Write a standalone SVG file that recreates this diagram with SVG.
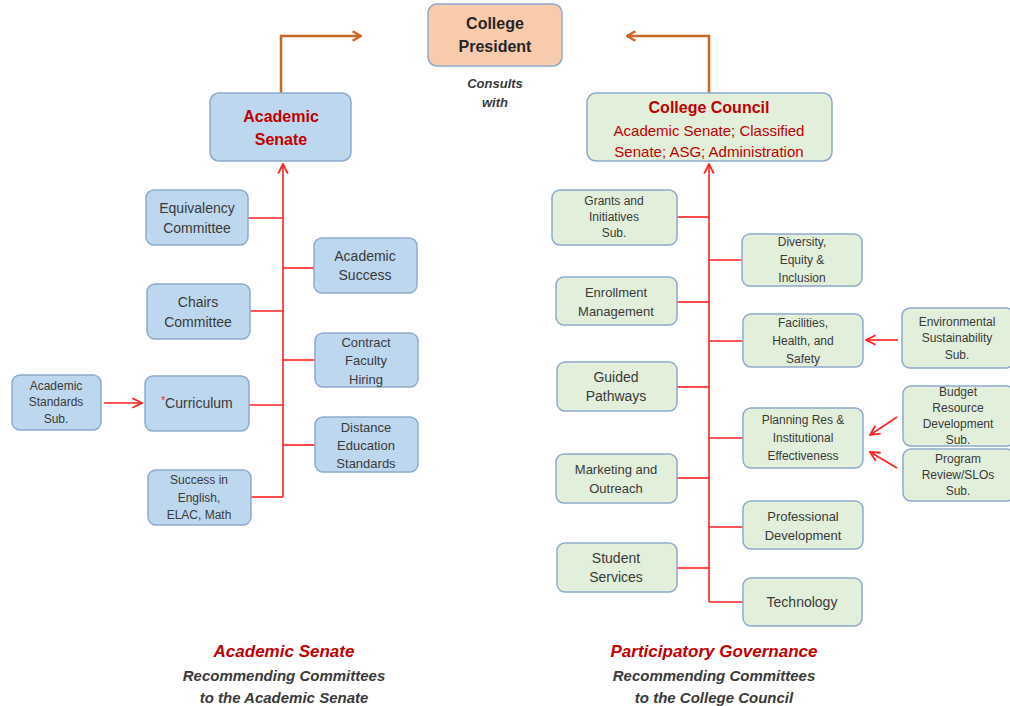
<svg xmlns="http://www.w3.org/2000/svg" width="1010" height="706" viewBox="0 0 1010 706">
<defs>
<style>
text{font-family:"Liberation Sans",Arial,sans-serif;text-anchor:middle;dominant-baseline:central;fill:#3a3a3a}
.blue rect{fill:#bdd7ee;stroke:#8eaacb;stroke-width:1.5}
.green rect{fill:#e2efda;stroke:#8eaacb;stroke-width:1.5}
.t14{font-size:14px}
.t13{font-size:13px}
.t12{font-size:12px}
.red{fill:#c00000}
.head{font-size:16px;font-weight:bold}
.conn line,.conn polyline{stroke:#ff2020;stroke-width:1.6;fill:none}
.orange{stroke:#c8692a;stroke-width:2.5;fill:none}
.cap{font-style:italic;font-weight:bold}
</style>
<marker id="ra" viewBox="0 0 10 10" refX="9" refY="5" markerWidth="7" markerHeight="7" orient="auto" markerUnits="userSpaceOnUse">
<path d="M1,1 L9,5 L1,9" fill="none" stroke="#ff2020" stroke-width="1.8"/>
</marker>
<marker id="rb" viewBox="0 0 10 10" refX="9" refY="5" markerWidth="12" markerHeight="12" orient="auto" markerUnits="userSpaceOnUse">
<path d="M1,1 L9,5 L1,9" fill="none" stroke="#ff2020" stroke-width="1.5"/>
</marker>
<marker id="oa" viewBox="0 0 10 10" refX="9" refY="5" markerWidth="12" markerHeight="12" orient="auto" markerUnits="userSpaceOnUse">
<path d="M2,1 L9,5 L2,9" fill="none" stroke="#c8692a" stroke-width="2"/>
</marker>
</defs>
<rect width="1010" height="706" fill="#ffffff"/>

<g id="connectors">
<polyline class="orange" points="281,93 281,36 361,36" marker-end="url(#oa)"/>
<polyline class="orange" points="709,93 709,36 627,36" marker-end="url(#oa)"/>
<g class="conn">
<line x1="283" y1="497" x2="283" y2="164" marker-end="url(#rb)"/>
<line x1="248" y1="218" x2="283" y2="218"/>
<line x1="283" y1="268" x2="314" y2="268"/>
<line x1="250" y1="311" x2="283" y2="311"/>
<line x1="283" y1="360" x2="315" y2="360"/>
<line x1="249" y1="405" x2="283" y2="405"/>
<line x1="283" y1="445" x2="315" y2="445"/>
<line x1="251" y1="497" x2="283" y2="497"/>
<line x1="104" y1="403" x2="142" y2="403" marker-end="url(#rb)"/>
<line x1="709" y1="602" x2="709" y2="164" marker-end="url(#rb)"/>
<line x1="677" y1="217" x2="709" y2="217"/>
<line x1="709" y1="260" x2="742" y2="260"/>
<line x1="677" y1="302" x2="709" y2="302"/>
<line x1="709" y1="341" x2="743" y2="341"/>
<line x1="677" y1="387" x2="709" y2="387"/>
<line x1="709" y1="438" x2="743" y2="438"/>
<line x1="677" y1="478" x2="709" y2="478"/>
<line x1="709" y1="527" x2="743" y2="527"/>
<line x1="677" y1="568" x2="709" y2="568"/>
<line x1="709" y1="602" x2="743" y2="602"/>
<line x1="898" y1="340" x2="866" y2="340" marker-end="url(#rb)"/>
<line x1="897" y1="417" x2="870" y2="435" marker-end="url(#rb)"/>
<line x1="897" y1="468" x2="870" y2="452" marker-end="url(#rb)"/>
</g>
</g>

<g id="president">
<rect x="428" y="4" width="134" height="62" rx="9" fill="#f8cbad" stroke="#8eaacb" stroke-width="1.5"/>
<text x="495" y="23" class="head" fill="#262626" style="fill:#262626">College</text>
<text x="495" y="46" class="head" style="fill:#262626">President</text>
</g>
<g id="consults">
<text x="495" y="83" class="cap" font-size="13">Consults</text>
<text x="495" y="102" class="cap" font-size="13">with</text>
</g>

<g id="academic-senate" class="blue">
<rect x="210" y="93" width="141" height="68" rx="9"/>
<text x="281" y="116" class="head red">Academic</text>
<text x="281" y="139" class="head red">Senate</text>
</g>

<g id="college-council" class="green">
<rect x="587" y="93" width="245" height="68" rx="9"/>
<text x="709" y="107" class="head red">College Council</text>
<text x="709" y="130" class="red" font-size="15">Academic Senate; Classified</text>
<text x="709" y="151" class="red" font-size="15">Senate; ASG; Administration</text>
</g>

<g id="equivalency" class="blue">
<rect x="146" y="190" width="102" height="55" rx="8"/>
<text x="197" y="208" class="t14">Equivalency</text>
<text x="197" y="228" class="t14">Committee</text>
</g>
<g id="chairs" class="blue">
<rect x="147" y="284" width="103" height="55" rx="8"/>
<text x="198" y="302" class="t14">Chairs</text>
<text x="198" y="322" class="t14">Committee</text>
</g>
<g id="curriculum" class="blue">
<rect x="145" y="376" width="104" height="55" rx="8"/>
<text x="197" y="403" class="t14"><tspan style="fill:#ff2020" font-size="10" dy="-3">*</tspan><tspan dy="3">Curriculum</tspan></text>
</g>
<g id="success-english" class="blue">
<rect x="148" y="470" width="103" height="55" rx="8"/>
<text x="199" y="480" class="t12">Success in</text>
<text x="199" y="498" class="t12">English,</text>
<text x="199" y="515" class="t12">ELAC, Math</text>
</g>
<g id="academic-standards" class="blue">
<rect x="12" y="375" width="89" height="55" rx="8"/>
<text x="56" y="386" class="t12">Academic</text>
<text x="56" y="402" class="t12">Standards</text>
<text x="56" y="419" class="t12">Sub.</text>
</g>
<g id="academic-success" class="blue">
<rect x="314" y="238" width="103" height="55" rx="8"/>
<text x="365" y="256" class="t14">Academic</text>
<text x="365" y="275" class="t14">Success</text>
</g>
<g id="contract-faculty" class="blue">
<rect x="315" y="333" width="103" height="54" rx="8"/>
<text x="366" y="342" class="t13">Contract</text>
<text x="366" y="360" class="t13">Faculty</text>
<text x="366" y="379" class="t13">Hiring</text>
</g>
<g id="distance-ed" class="blue">
<rect x="315" y="417" width="103" height="55" rx="8"/>
<text x="366" y="427" class="t13">Distance</text>
<text x="366" y="445" class="t13">Education</text>
<text x="366" y="463" class="t13">Standards</text>
</g>

<g id="grants" class="green">
<rect x="552" y="190" width="125" height="55" rx="8"/>
<text x="614" y="201" class="t12">Grants and</text>
<text x="614" y="217" class="t12">Initiatives</text>
<text x="614" y="233" class="t12">Sub.</text>
</g>
<g id="enrollment" class="green">
<rect x="556" y="277" width="121" height="48" rx="8"/>
<text x="616" y="292" class="t13">Enrollment</text>
<text x="616" y="311" class="t13">Management</text>
</g>
<g id="guided" class="green">
<rect x="557" y="362" width="120" height="49" rx="8"/>
<text x="616" y="377" class="t14">Guided</text>
<text x="616" y="396" class="t14">Pathways</text>
</g>
<g id="marketing" class="green">
<rect x="556" y="454" width="121" height="49" rx="8"/>
<text x="616" y="469" class="t13">Marketing and</text>
<text x="616" y="488" class="t13">Outreach</text>
</g>
<g id="student-services" class="green">
<rect x="557" y="543" width="120" height="49" rx="8"/>
<text x="616" y="558" class="t14">Student</text>
<text x="616" y="577" class="t14">Services</text>
</g>
<g id="diversity" class="green">
<rect x="742" y="234" width="120" height="52" rx="8"/>
<text x="802" y="242" class="t12">Diversity,</text>
<text x="802" y="260" class="t12">Equity &amp;</text>
<text x="802" y="278" class="t12">Inclusion</text>
</g>
<g id="facilities" class="green">
<rect x="743" y="314" width="120" height="53" rx="8"/>
<text x="803" y="323" class="t12">Facilities,</text>
<text x="803" y="341" class="t12">Health, and</text>
<text x="803" y="359" class="t12">Safety</text>
</g>
<g id="planning" class="green">
<rect x="743" y="408" width="120" height="60" rx="8"/>
<text x="803" y="420" class="t12">Planning Res &amp;</text>
<text x="803" y="438" class="t12">Institutional</text>
<text x="803" y="456" class="t12">Effectiveness</text>
</g>
<g id="professional" class="green">
<rect x="743" y="501" width="120" height="48" rx="8"/>
<text x="803" y="516" class="t13">Professional</text>
<text x="803" y="535" class="t13">Development</text>
</g>
<g id="technology" class="green">
<rect x="743" y="578" width="119" height="48" rx="8"/>
<text x="802" y="602" class="t14">Technology</text>
</g>
<g id="environmental" class="green">
<rect x="902" y="308" width="112" height="60" rx="8"/>
<text x="957" y="322" class="t12">Environmental</text>
<text x="957" y="338" class="t12">Sustainability</text>
<text x="957" y="355" class="t12">Sub.</text>
</g>
<g id="budget" class="green">
<rect x="903" y="386" width="112" height="60" rx="8"/>
<text x="958" y="392" class="t12">Budget</text>
<text x="958" y="408" class="t12">Resource</text>
<text x="958" y="424" class="t12">Development</text>
<text x="958" y="440" class="t12">Sub.</text>
</g>
<g id="program-review" class="green">
<rect x="903" y="449" width="112" height="52" rx="8"/>
<text x="958" y="459" class="t12">Program</text>
<text x="958" y="475" class="t12">Review/SLOs</text>
<text x="958" y="491" class="t12">Sub.</text>
</g>

<g id="caption-left">
<text x="284" y="651" class="cap red" font-size="17">Academic Senate</text>
<text x="284" y="675" class="cap" font-size="15">Recommending Committees</text>
<text x="284" y="697" class="cap" font-size="15">to the Academic Senate</text>
</g>
<g id="caption-right">
<text x="714" y="651" class="cap red" font-size="17">Participatory Governance</text>
<text x="714" y="675" class="cap" font-size="15">Recommending Committees</text>
<text x="714" y="697" class="cap" font-size="15">to the College Council</text>
</g>
</svg>
